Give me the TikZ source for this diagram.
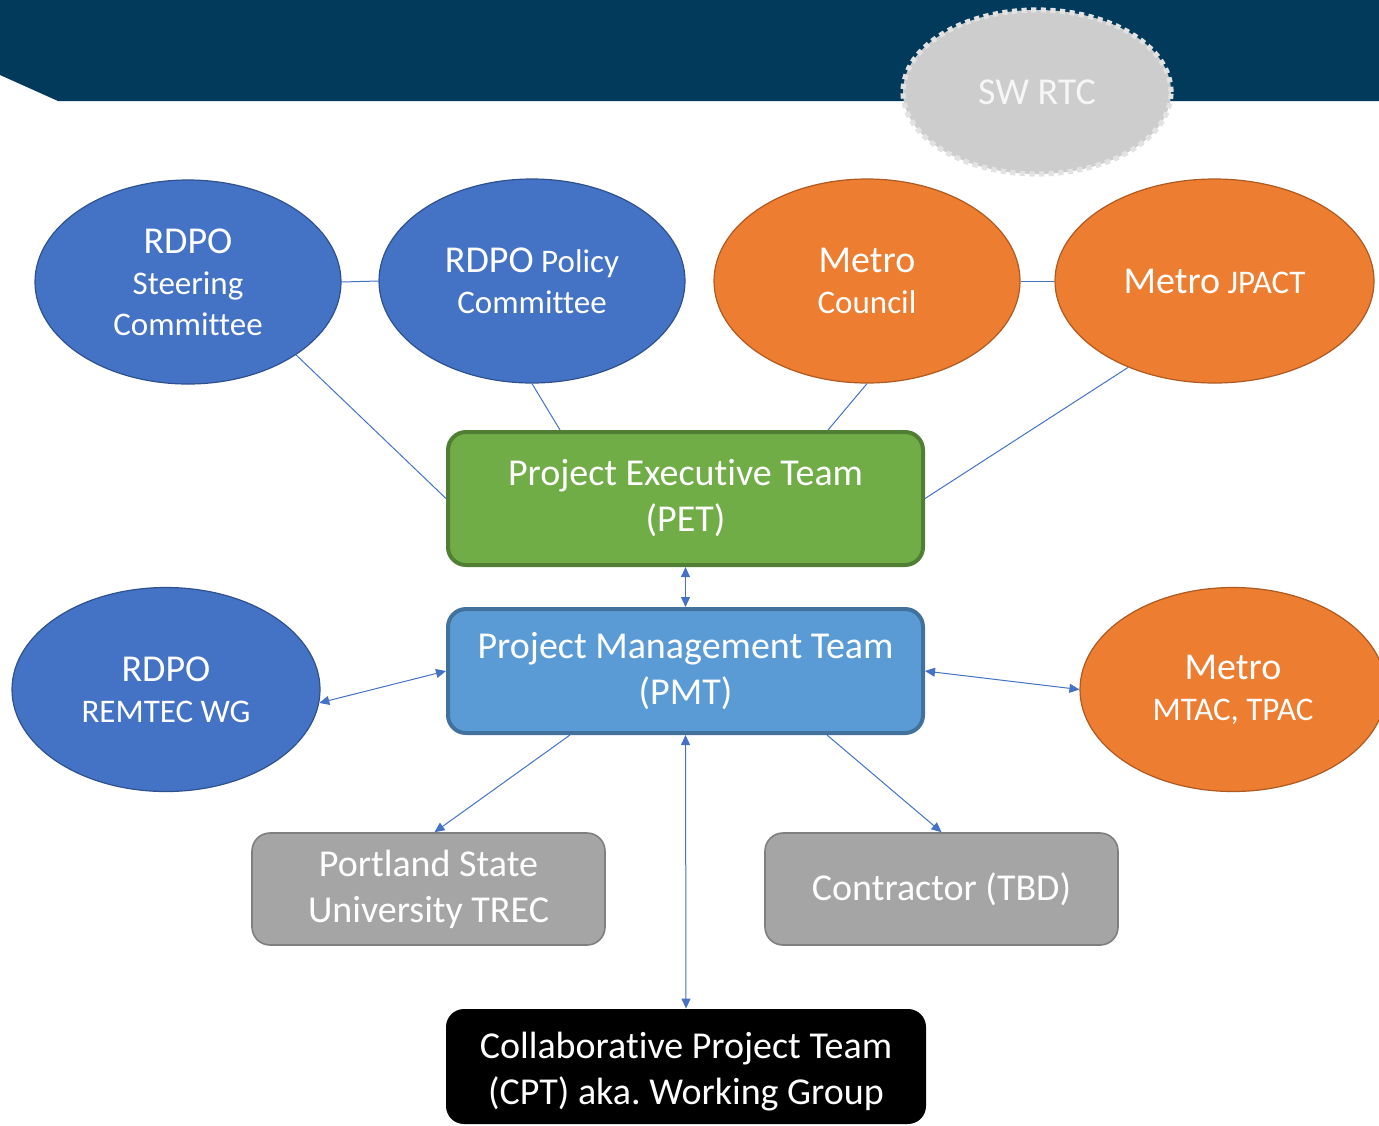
\documentclass[tikz,border=0pt]{standalone}
\usepackage{fontspec}
\setmainfont{Carlito}[Ligatures=NoCommon]
\usetikzlibrary{shapes.geometric,arrows.meta,calc}
\definecolor{navy}{HTML}{023A5C}
\definecolor{rdpo}{HTML}{4472C4}
\definecolor{rdpoedge}{HTML}{2F528F}
\definecolor{metro}{HTML}{ED7D31}
\definecolor{metroedge}{HTML}{AE5A21}
\definecolor{petfill}{HTML}{70AD47}
\definecolor{petedge}{HTML}{507E32}
\definecolor{pmtfill}{HTML}{5B9BD5}
\definecolor{pmtedge}{HTML}{41719C}
\definecolor{grayfill}{HTML}{A5A5A5}
\definecolor{grayedge}{HTML}{7F7F7F}
\definecolor{swfill}{HTML}{CDCDCD}
\definecolor{swedge}{HTML}{E2E2E2}
\definecolor{swtext}{HTML}{F6F6F6}
\definecolor{conn}{HTML}{4472C4}
\frenchspacing
\newcommand\nolig{\kern0pt }
\begin{document}
\begin{tikzpicture}[x=0.5pt,y=-0.5pt,
  oval/.style={ellipse, minimum width=153pt, minimum height=102pt, inner sep=0pt,
    text=white, align=center, line width=0.6pt, font=\fontsize{16.5}{20.5}\selectfont},
  blueoval/.style={oval, fill=rdpo, draw=rdpoedge},
  orangeoval/.style={oval, fill=metro, draw=metroedge},
  box/.style={rectangle, rounded corners=9pt, text=white, align=center, inner sep=0pt,
    font=\fontsize{19}{23}\selectfont},
  link/.style={draw=conn, line width=0.5pt},
  tipa/.tip={Triangle[length=5pt,width=4.5pt]},
  arr/.style={link, -tipa},
  darr/.style={link, tipa-tipa},
]
\newcommand\bigword[1]{{\fontsize{19}{20.5}\selectfont #1}}
\useasboundingbox (0,0) rectangle (1379,1125);
% banner
\fill[navy] (0,0) -- (1379,0) -- (1379,101) -- (58,101) -- (0,75) -- cycle;
% SW RTC
\node[ellipse, minimum width=134pt, minimum height=82pt, inner sep=0pt, fill=swfill,
  draw=swedge, line width=2.6pt, dash pattern=on 2.6pt off 2.2pt, text=swtext,
  font=\fontsize{19}{23}\selectfont] (sw) at (1037,92) {SW RTC};
% top ellipses
\node[blueoval] (steer) at (188,282) {\bigword{RDPO}\\Steering\\Committee};
\node[blueoval] (pol) at (532,281) {\bigword{RDPO} Policy\\Committee};
\node[orangeoval] (council) at (867,281) {\bigword{Metro}\\Council};
\node[orangeoval, minimum width=159.5pt] (jpact) at (1214.5,281) {\bigword{Metro} JPACT};
% middle
\node[box, fill=petfill, draw=petedge, line width=2pt, minimum width=237.5pt, minimum height=66.5pt]
  (pet) at (685.5,498.5) {Project Execut\nolig ive Team\\(PET)};
\node[box, fill=pmtfill, draw=pmtedge, line width=2pt, minimum width=237.5pt, minimum height=62pt]
  (pmt) at (685.5,671) {Project Management Team\\(PMT)};
\node[blueoval, minimum width=154pt] (remtec) at (166,689.5) {\bigword{RDPO}\\REMTEC WG};
\node[orangeoval] (mtac) at (1233,689.5) {\bigword{Metro}\\MTAC, TPAC};
% bottom
\node[box, fill=grayfill, draw=grayedge, line width=0.8pt, minimum width=176.5pt, minimum height=56pt]
  (psu) at (428.5,889) {Portland State\\University TREC};
\node[box, fill=grayfill, draw=grayedge, line width=0.8pt, minimum width=176.5pt, minimum height=56pt]
  (contr) at (941.5,889) {Contractor (TBD)};
\node[box, fill=black, minimum width=240pt, minimum height=57.5pt,
  label={[name=cpttext, text=white, align=center, font=\fontsize{19}{23}\selectfont, yshift=-2.5pt]center:Collaborat\nolig ive Project Team\\(CPT) aka. Working Group}]
  (cpt) at (686,1066.5) {};
% connectors
\draw[link] (steer.east) -- (pol.west);
\draw[link] (council.east) -- (jpact.west);
\draw[link] (steer.-34) -- (pet.west);
\draw[link] (pol.south) -- ([xshift=-62.75pt]pet.north);
\draw[link] (council.south) -- ([xshift=71.25pt]pet.north);
\draw[link] (jpact.-135) -- (pet.east);
\draw[darr] (pet.south) -- (pmt.north);
\draw[darr] (remtec.-5) -- (pmt.west);
\draw[darr] (pmt.east) -- (mtac.west);
\draw[arr] ([xshift=-57.75pt]pmt.south) -- ([xshift=3pt]psu.north);
\draw[arr] ([xshift=70.75pt]pmt.south) -- (contr.north);
\draw[darr] (pmt.south) -- (cpt.north);
\end{tikzpicture}
\end{document}
